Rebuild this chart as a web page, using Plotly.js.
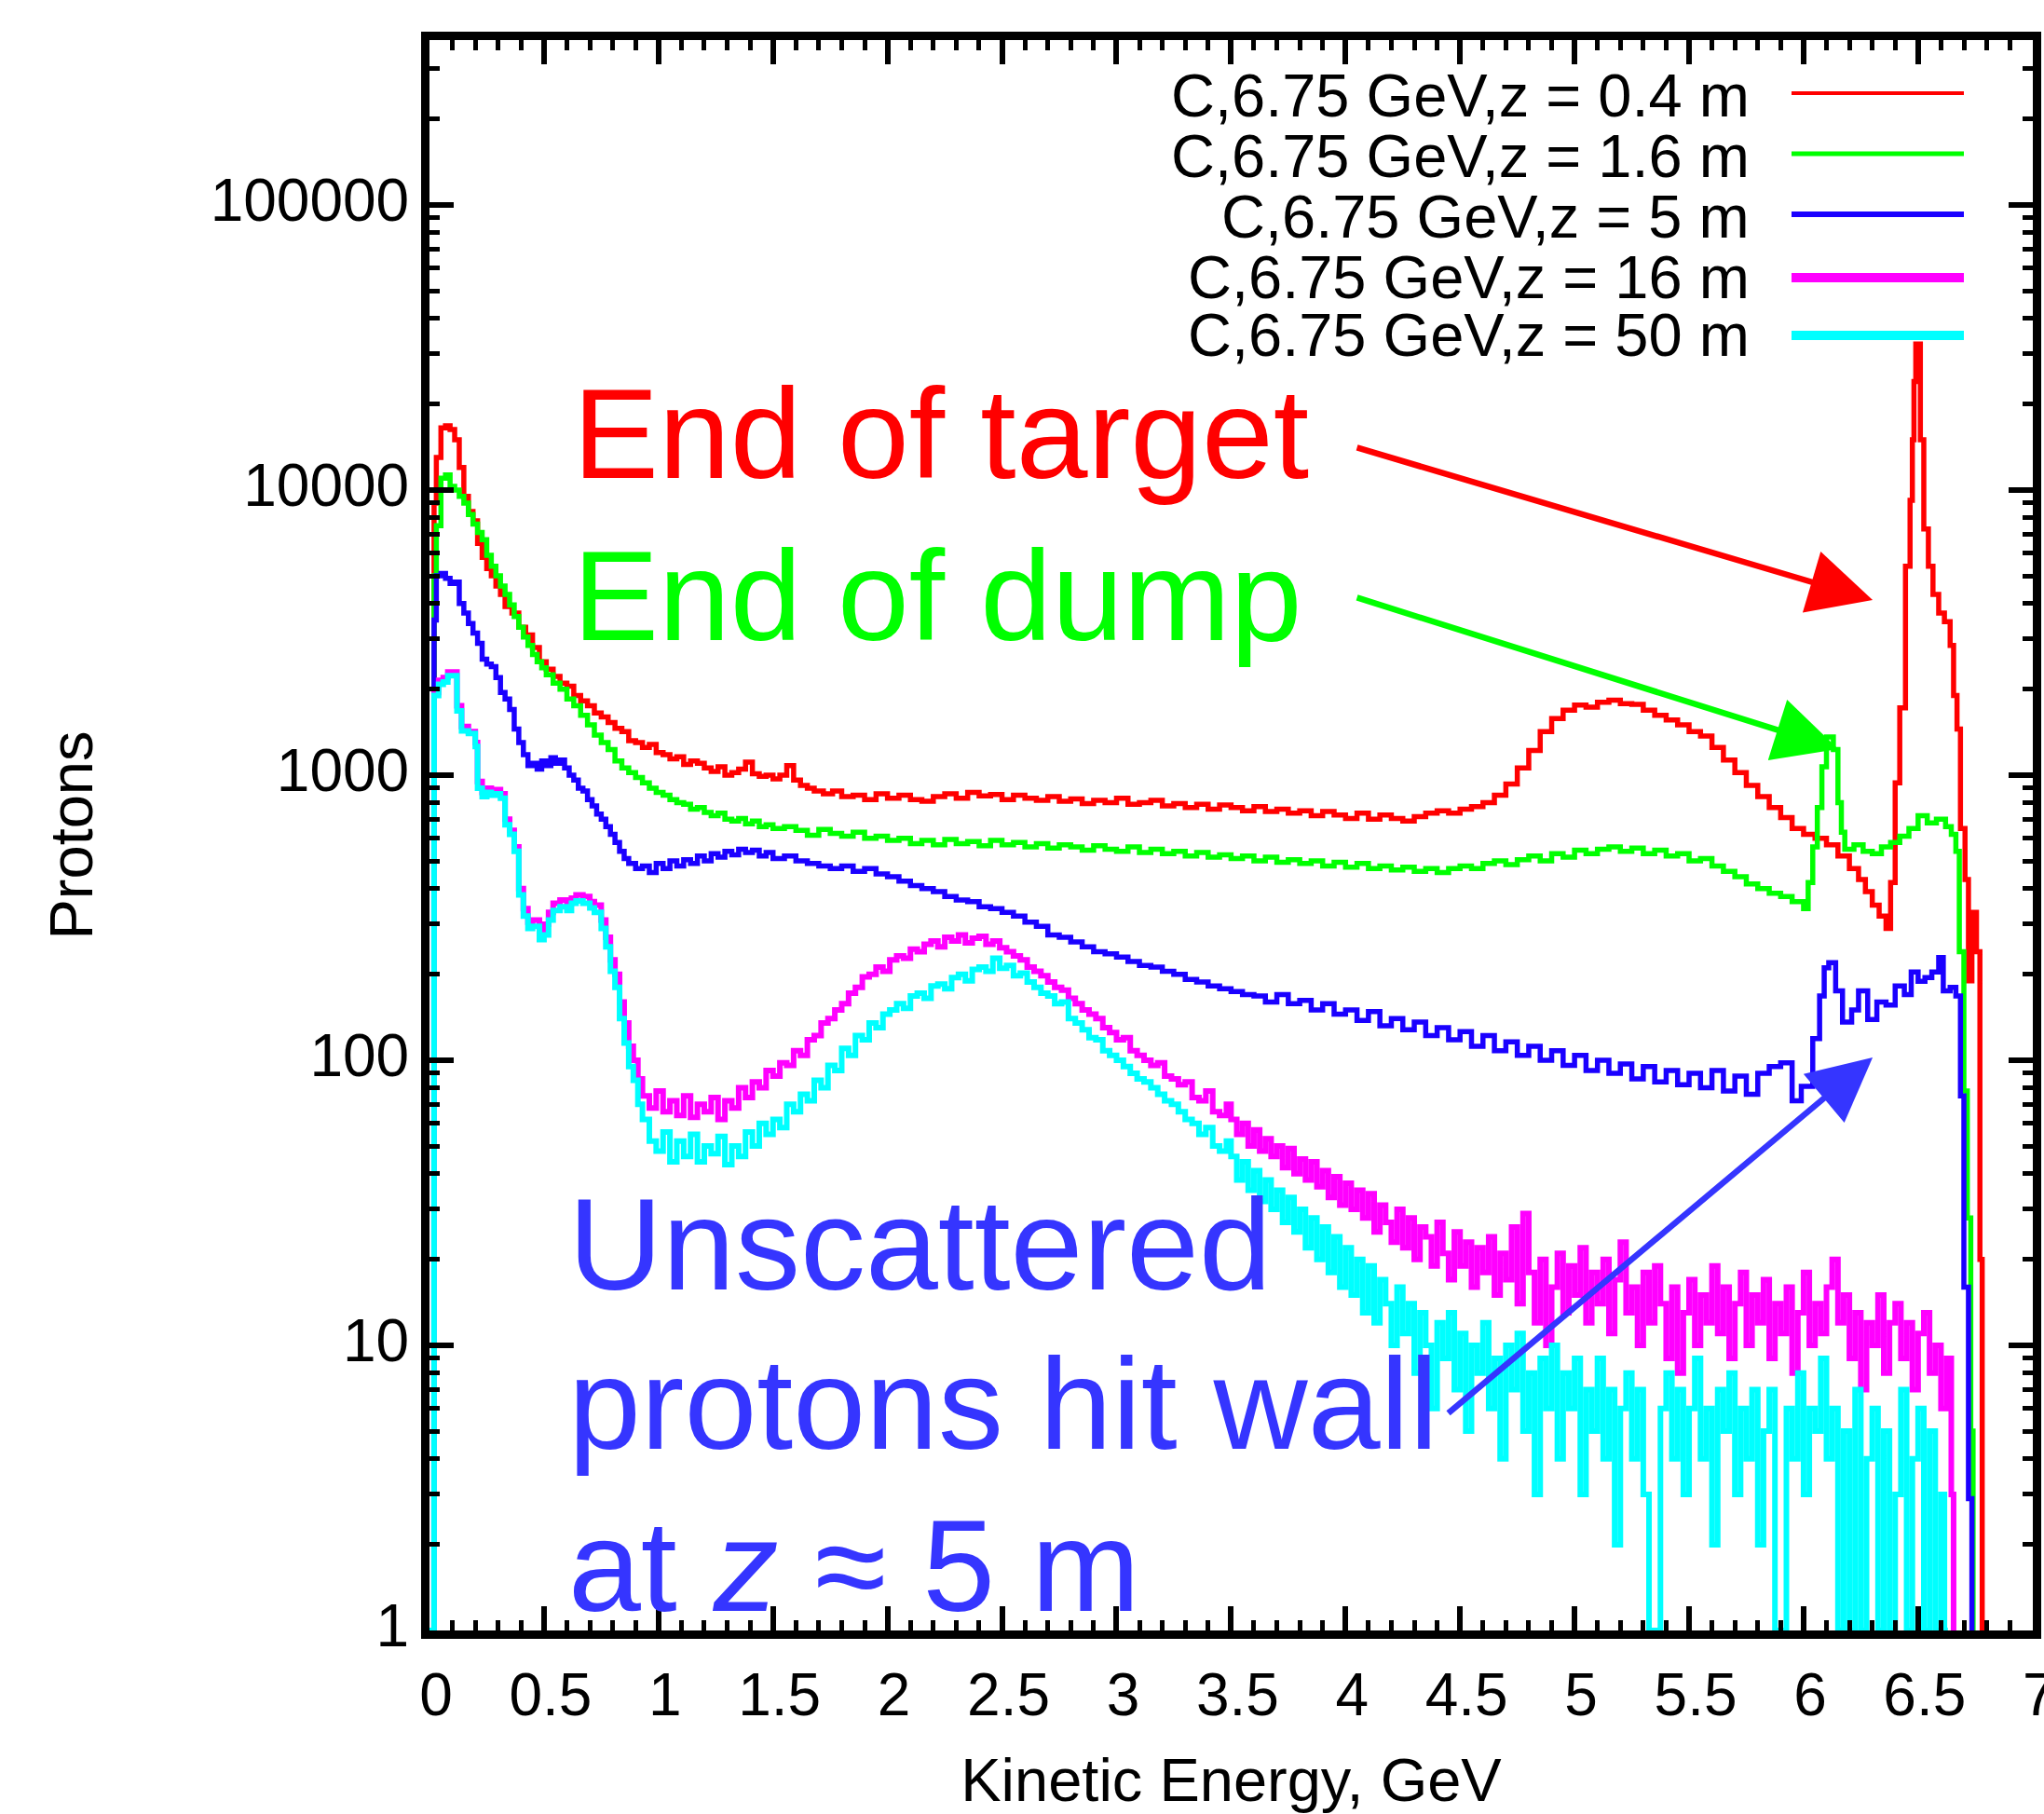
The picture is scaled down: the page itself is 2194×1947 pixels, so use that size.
<!DOCTYPE html>
<html>
<head>
<meta charset="utf-8">
<script src="https://cdn.plot.ly/plotly-3.0.1.min.js"></script>
<style>
html,body{margin:0;padding:0;background:#ffffff;}
#chart{width:2194px;height:1947px;}
</style>
</head>
<body>
<div id="chart"></div>
<script>
// ---------- DATA (kinetic energy bin start in GeV, proton count) ----------
const seriesNames = [
  "C,6.75 GeV,z = 0.4 m",
  "C,6.75 GeV,z = 1.6 m",
  "C,6.75 GeV,z = 5 m",
  "C,6.75 GeV,z = 16 m",
  "C,6.75 GeV,z = 50 m"
];
const seriesColors = ["#ff0000", "#00ff00", "#1a00ff", "#ff00ff", "#00ffff"];

const redSteps = [[0,1],[0.02,9000],[0.03,13000],[0.05,16500],[0.07,16800],[0.09,16300],[0.11,15000],[0.13,12000],[0.15,9500],[0.17,8400],[0.19,7800],[0.21,6500],[0.23,5800],[0.25,5300],[0.27,5000],[0.29,4600],[0.31,4300],[0.33,3900],[0.36,3700],[0.39,3300],[0.42,3100],[0.45,2800],[0.48,2500],[0.51,2350],[0.54,2220],[0.57,2100],[0.60,2050],[0.63,1900],[0.66,1820],[0.69,1750],[0.72,1650],[0.75,1600],[0.78,1530],[0.81,1460],[0.84,1420],[0.87,1320],[0.90,1300],[0.93,1250],[0.96,1280],[0.99,1200],[1.02,1180],[1.05,1140],[1.08,1160],[1.11,1090],[1.14,1120],[1.17,1100],[1.20,1060],[1.23,1030],[1.26,1070],[1.29,1000],[1.32,1020],[1.35,1050],[1.38,1110],[1.41,1010],[1.44,990],[1.47,1000],[1.50,970],[1.53,1000],[1.56,1080],[1.59,960],[1.62,920],[1.65,900],[1.68,880],[1.72,860],[1.76,880],[1.80,840],[1.85,850],[1.90,820],[1.95,860],[2.00,830],[2.05,850],[2.10,820],[2.15,810],[2.20,840],[2.25,860],[2.30,830],[2.35,870],[2.40,845],[2.45,855],[2.50,820],[2.55,850],[2.60,830],[2.65,815],[2.70,840],[2.75,810],[2.80,825],[2.85,795],[2.90,815],[2.95,800],[3.00,830],[3.05,790],[3.10,800],[3.15,815],[3.20,780],[3.25,795],[3.30,770],[3.35,790],[3.40,760],[3.45,785],[3.50,770],[3.55,750],[3.60,775],[3.65,745],[3.70,760],[3.75,735],[3.80,750],[3.85,720],[3.90,745],[3.95,725],[4.00,705],[4.05,735],[4.10,700],[4.15,725],[4.20,705],[4.25,690],[4.30,715],[4.35,735],[4.40,750],[4.45,735],[4.50,760],[4.55,775],[4.60,800],[4.65,850],[4.70,930],[4.75,1060],[4.80,1220],[4.85,1420],[4.90,1580],[4.95,1690],[5.00,1760],[5.05,1730],[5.10,1800],[5.15,1830],[5.20,1780],[5.25,1770],[5.30,1690],[5.35,1620],[5.40,1560],[5.45,1500],[5.50,1420],[5.55,1370],[5.60,1250],[5.65,1130],[5.70,1020],[5.75,920],[5.80,840],[5.85,770],[5.90,710],[5.95,650],[6.00,620],[6.05,600],[6.10,570],[6.15,520],[6.20,470],[6.24,430],[6.27,390],[6.30,350],[6.33,320],[6.36,290],[6.38,420],[6.40,940],[6.42,1720],[6.445,5400],[6.465,9200],[6.475,15000],[6.482,24000],[6.49,32500],[6.51,15000],[6.525,7300],[6.545,5400],[6.565,4300],[6.59,3700],[6.615,3450],[6.64,2850],[6.655,1900],[6.67,1450],[6.685,650],[6.705,430],[6.72,190],[6.735,330],[6.755,240],[6.77,20],[6.78,1]];

const greenSteps = [[0,1],[0.02,5000],[0.03,7500],[0.05,11000],[0.07,11300],[0.09,10300],[0.11,10000],[0.13,9500],[0.15,9000],[0.17,8200],[0.19,7600],[0.21,7100],[0.23,6700],[0.25,5900],[0.27,5400],[0.29,5000],[0.31,4600],[0.33,4300],[0.35,3950],[0.37,3600],[0.39,3300],[0.41,3050],[0.43,2850],[0.45,2650],[0.47,2500],[0.49,2380],[0.51,2250],[0.54,2100],[0.57,2000],[0.60,1850],[0.63,1750],[0.66,1620],[0.69,1500],[0.72,1380],[0.75,1300],[0.78,1230],[0.81,1120],[0.84,1060],[0.87,1020],[0.90,980],[0.93,940],[0.96,900],[0.99,870],[1.02,850],[1.05,820],[1.08,800],[1.11,790],[1.14,760],[1.17,770],[1.20,740],[1.23,720],[1.26,735],[1.29,700],[1.32,690],[1.35,705],[1.38,675],[1.41,690],[1.44,660],[1.47,670],[1.50,650],[1.55,660],[1.60,640],[1.65,615],[1.70,645],[1.75,625],[1.80,610],[1.85,630],[1.90,600],[1.95,610],[2.00,590],[2.05,600],[2.10,575],[2.15,590],[2.20,570],[2.25,595],[2.30,575],[2.35,585],[2.40,565],[2.45,590],[2.50,570],[2.55,580],[2.60,560],[2.65,575],[2.70,555],[2.75,570],[2.80,560],[2.85,545],[2.90,565],[2.95,550],[3.00,540],[3.05,560],[3.10,535],[3.15,550],[3.20,530],[3.25,540],[3.30,520],[3.35,535],[3.40,515],[3.45,525],[3.50,510],[3.55,520],[3.60,500],[3.65,515],[3.70,495],[3.75,505],[3.80,490],[3.85,500],[3.90,480],[3.95,495],[4.00,475],[4.05,490],[4.10,470],[4.15,480],[4.20,465],[4.25,475],[4.30,460],[4.35,470],[4.40,455],[4.45,470],[4.50,480],[4.55,470],[4.60,490],[4.65,500],[4.70,485],[4.75,505],[4.80,520],[4.85,500],[4.90,530],[4.95,515],[5.00,545],[5.05,530],[5.10,550],[5.15,560],[5.20,540],[5.25,555],[5.30,530],[5.35,545],[5.40,520],[5.45,530],[5.50,500],[5.55,510],[5.60,480],[5.65,460],[5.70,440],[5.75,415],[5.80,400],[5.85,385],[5.90,375],[5.95,360],[6.00,340],[6.02,420],[6.04,560],[6.06,770],[6.08,1070],[6.10,1360],[6.13,1230],[6.15,800],[6.165,630],[6.18,550],[6.22,570],[6.26,540],[6.30,530],[6.34,560],[6.38,580],[6.42,610],[6.46,650],[6.50,720],[6.54,680],[6.58,700],[6.62,660],[6.645,620],[6.665,540],[6.68,240],[6.70,78],[6.715,28],[6.73,5],[6.74,1]];

const blueSteps = [[0,1],[0.02,3500],[0.03,5000],[0.05,5100],[0.07,4900],[0.09,4700],[0.11,4750],[0.13,4000],[0.15,3700],[0.17,3400],[0.19,3150],[0.21,2900],[0.23,2550],[0.25,2450],[0.27,2400],[0.29,2200],[0.31,1950],[0.33,1850],[0.35,1700],[0.37,1450],[0.39,1300],[0.41,1180],[0.43,1080],[0.45,1100],[0.47,1050],[0.49,1120],[0.51,1080],[0.53,1150],[0.55,1100],[0.57,1130],[0.59,1060],[0.61,1000],[0.63,960],[0.65,900],[0.67,880],[0.69,820],[0.71,780],[0.73,730],[0.75,700],[0.77,660],[0.79,620],[0.81,580],[0.83,540],[0.85,510],[0.87,490],[0.90,470],[0.93,480],[0.96,455],[0.99,490],[1.02,470],[1.05,500],[1.08,480],[1.11,505],[1.14,490],[1.17,520],[1.20,500],[1.23,530],[1.26,515],[1.29,540],[1.32,525],[1.35,550],[1.38,535],[1.41,545],[1.44,520],[1.47,535],[1.50,510],[1.55,520],[1.60,500],[1.65,490],[1.70,480],[1.75,470],[1.80,480],[1.85,460],[1.90,470],[1.95,450],[2.00,440],[2.05,425],[2.10,410],[2.15,400],[2.20,390],[2.25,375],[2.30,365],[2.35,360],[2.40,345],[2.45,340],[2.50,330],[2.55,320],[2.60,305],[2.65,295],[2.70,275],[2.75,270],[2.80,260],[2.85,250],[2.90,240],[2.95,236],[3.00,230],[3.05,222],[3.10,215],[3.15,212],[3.20,205],[3.25,200],[3.30,192],[3.35,188],[3.40,182],[3.45,178],[3.50,174],[3.55,170],[3.60,168],[3.65,160],[3.70,170],[3.75,158],[3.80,162],[3.85,150],[3.90,158],[3.95,145],[4.00,150],[4.05,138],[4.10,148],[4.15,132],[4.20,140],[4.25,128],[4.30,136],[4.35,122],[4.40,130],[4.45,118],[4.50,126],[4.55,112],[4.60,122],[4.65,108],[4.70,116],[4.75,104],[4.80,112],[4.85,100],[4.90,108],[4.95,96],[5.00,104],[5.05,92],[5.10,100],[5.15,90],[5.20,97],[5.25,86],[5.30,95],[5.35,84],[5.40,92],[5.45,82],[5.50,90],[5.55,80],[5.60,92],[5.65,78],[5.70,88],[5.75,76],[5.80,90],[5.85,95],[5.90,98],[5.95,72],[5.99,81],[6.04,119],[6.07,168],[6.09,211],[6.11,220],[6.14,175],[6.17,136],[6.21,150],[6.24,175],[6.28,139],[6.32,160],[6.36,156],[6.40,182],[6.44,170],[6.47,204],[6.50,189],[6.53,195],[6.56,204],[6.59,229],[6.61,175],[6.64,180],[6.665,168],[6.685,75],[6.70,16],[6.72,2.9],[6.735,1]];

const magentaSteps = [[0,1],[0.02,1950],[0.04,2150],[0.06,2200],[0.08,2300],[0.10,2300],[0.12,1750],[0.14,1480],[0.17,1420],[0.20,1300],[0.21,950],[0.23,870],[0.25,900],[0.27,880],[0.29,890],[0.31,860],[0.33,700],[0.35,640],[0.37,560],[0.39,400],[0.41,340],[0.43,305],[0.45,310],[0.48,285],[0.50,300],[0.52,330],[0.54,355],[0.57,365],[0.60,355],[0.62,370],[0.64,380],[0.67,375],[0.70,360],[0.72,350],[0.75,310],[0.77,270],[0.79,225],[0.81,200],[0.83,160],[0.85,135],[0.87,112],[0.89,100],[0.91,86],[0.93,75],[0.96,68],[0.99,78],[1.02,66],[1.05,72],[1.08,64],[1.11,75],[1.14,63],[1.17,70],[1.20,66],[1.23,74],[1.26,62],[1.29,72],[1.32,68],[1.35,80],[1.38,74],[1.41,84],[1.44,80],[1.47,92],[1.50,88],[1.53,98],[1.56,96],[1.59,108],[1.62,104],[1.65,118],[1.68,122],[1.71,135],[1.74,140],[1.77,150],[1.80,158],[1.83,172],[1.86,180],[1.89,196],[1.92,200],[1.95,212],[1.98,205],[2.01,225],[2.04,232],[2.07,228],[2.10,245],[2.13,240],[2.16,255],[2.19,262],[2.22,250],[2.25,270],[2.28,262],[2.31,275],[2.34,258],[2.37,268],[2.40,272],[2.43,255],[2.46,262],[2.49,248],[2.52,240],[2.55,232],[2.58,225],[2.61,212],[2.64,205],[2.67,198],[2.70,188],[2.73,180],[2.76,176],[2.79,165],[2.82,158],[2.85,150],[2.88,145],[2.91,140],[2.94,130],[2.97,125],[3.00,118],[3.03,120],[3.06,108],[3.09,104],[3.12,100],[3.15,96],[3.18,98],[3.21,88],[3.24,86],[3.27,82],[3.30,84],[3.33,74],[3.36,72],[3.39,78],[3.42,66],[3.45,64],[3.48,70],
[3.500,62],[3.525,55],[3.550,60],[3.575,50],[3.600,57],[3.625,48],[3.650,53],[3.675,46],[3.700,50],[3.725,42],[3.750,49],[3.775,40],[3.800,45],[3.825,38],[3.850,44],[3.875,36],[3.900,41],[3.925,33],[3.950,39],[3.975,31],[4.000,37],[4.025,30],[4.050,35],[4.075,28],[4.100,34],[4.125,25],[4.150,31],[4.175,27],[4.200,23],[4.225,30],[4.250,22],[4.275,28],[4.300,20],[4.325,26],[4.350,24],[4.375,19],[4.400,27],[4.425,21],[4.450,17],[4.475,25],[4.500,19],[4.525,23],[4.550,16],[4.575,22],[4.600,18],[4.625,24],[4.650,15],[4.675,21],[4.700,17],[4.725,26],[4.750,14],[4.775,29],[4.800,18],[4.825,12],[4.850,20],[4.875,10],[4.900,16],[4.925,21],[4.950,13],[4.975,19],[5.000,15],[5.025,22],[5.050,12],[5.075,18],[5.100,14],[5.125,20],[5.150,11],[5.175,17],[5.200,23],[5.225,13],[5.250,16],[5.275,10],[5.300,18],[5.325,12],[5.350,19],[5.375,14],[5.400,9],[5.425,16],[5.450,8],[5.475,13],[5.500,17],[5.525,10],[5.550,15],[5.575,12],[5.600,19],[5.625,11],[5.650,16],[5.675,9],[5.700,14],[5.725,18],[5.750,10],[5.775,15],[5.800,12],[5.825,17],[5.850,9],[5.875,14],[5.900,11],[5.925,16],[5.950,8],[5.975,13],[6.000,18],[6.025,10],[6.050,14],[6.075,11],[6.100,16],[6.125,20],[6.150,12],[6.175,15],[6.200,9],[6.225,13],[6.250,7],[6.275,12],[6.300,10],[6.325,15],[6.350,8],[6.375,12],[6.400,14],[6.425,9],[6.450,12],[6.475,7],[6.500,11],[6.525,13],[6.550,8],[6.575,10],[6.600,6],[6.625,9],[6.645,3],[6.655,1]];

const cyanSteps = [[0,1],[0.02,1900],[0.04,2080],[0.06,2120],[0.08,2230],[0.10,2230],[0.12,1680],[0.14,1430],[0.17,1400],[0.20,1260],[0.21,900],[0.23,840],[0.25,870],[0.27,850],[0.29,860],[0.31,830],[0.33,670],[0.35,620],[0.37,540],[0.39,380],[0.41,320],[0.43,290],[0.45,295],[0.48,265],[0.50,275],[0.52,310],[0.54,335],[0.57,345],[0.60,335],[0.62,355],[0.64,362],[0.67,355],[0.70,342],[0.72,330],[0.75,290],[0.77,250],[0.79,205],[0.81,180],[0.83,140],[0.85,115],[0.87,95],[0.89,85],[0.91,70],[0.93,62],[0.96,52],[0.99,48],[1.02,56],[1.05,44],[1.08,52],[1.11,46],[1.14,55],[1.17,44],[1.20,50],[1.23,47],[1.26,54],[1.29,43],[1.32,50],[1.35,46],[1.38,56],[1.41,50],[1.44,60],[1.47,55],[1.50,62],[1.53,58],[1.56,70],[1.59,66],[1.62,76],[1.65,72],[1.68,85],[1.71,80],[1.74,96],[1.77,92],[1.80,110],[1.83,104],[1.86,122],[1.89,118],[1.92,135],[1.95,130],[1.98,145],[2.01,150],[2.04,158],[2.07,152],[2.10,168],[2.13,172],[2.16,165],[2.19,182],[2.22,185],[2.25,178],[2.28,195],[2.31,200],[2.34,190],[2.37,208],[2.40,212],[2.43,205],[2.46,228],[2.49,210],[2.52,215],[2.55,198],[2.58,202],[2.61,188],[2.64,180],[2.67,172],[2.70,168],[2.73,158],[2.76,160],[2.79,140],[2.82,135],[2.85,128],[2.88,120],[2.91,118],[2.94,108],[2.97,104],[3.00,100],[3.03,95],[3.06,90],[3.09,86],[3.12,84],[3.15,80],[3.18,76],[3.21,72],[3.24,70],[3.27,66],[3.30,62],[3.33,60],[3.36,55],[3.39,58],[3.42,50],[3.45,48],[3.48,52],
[3.500,46],[3.525,38],[3.550,44],[3.575,35],[3.600,41],[3.625,32],[3.650,38],[3.675,30],[3.700,35],[3.725,27],[3.750,33],[3.775,25],[3.800,30],[3.825,22],[3.850,28],[3.875,20],[3.900,26],[3.925,18],[3.950,24],[3.975,16],[4.000,22],[4.025,15],[4.050,20],[4.075,13],[4.100,19],[4.125,12],[4.150,17],[4.175,14],[4.200,10],[4.225,16],[4.250,11],[4.275,14],[4.300,8],[4.325,13],[4.350,10],[4.375,6],[4.400,12],[4.425,9],[4.450,13],[4.475,7],[4.500,11],[4.525,5],[4.550,10],[4.575,8],[4.600,12],[4.625,6],[4.650,9],[4.675,4],[4.700,10],[4.725,7],[4.750,11],[4.775,5],[4.800,8],[4.825,3],[4.850,9],[4.875,6],[4.900,10],[4.925,4],[4.950,8],[4.975,6],[5.000,9],[5.025,3],[5.050,7],[5.075,5],[5.100,9],[5.125,4],[5.150,7],[5.175,2],[5.200,6],[5.225,8],[5.250,4],[5.275,7],[5.300,3],[5.325,1],[5.350,1],[5.375,6],[5.400,8],[5.425,4],[5.450,7],[5.475,3],[5.500,6],[5.525,9],[5.550,4],[5.575,6],[5.600,2],[5.625,7],[5.650,5],[5.675,8],[5.700,3],[5.725,6],[5.750,4],[5.775,7],[5.800,2],[5.825,5],[5.850,7],[5.875,1],[5.900,1],[5.925,6],[5.950,4],[5.975,8],[6.000,3],[6.025,6],[6.050,5],[6.075,9],[6.100,4],[6.125,6],[6.150,1],[6.175,5],[6.200,1],[6.225,7],[6.250,1],[6.275,4],[6.300,6],[6.325,1],[6.350,5],[6.375,1],[6.400,3],[6.425,7],[6.450,1],[6.475,4],[6.500,6],[6.525,1],[6.550,5],[6.575,1],[6.600,3],[6.615,1],[6.630,1]];

const xTitle = "Kinetic Energy, GeV";
const yTitle = "Protons";
const noteTexts = ["End of target", "End of dump", "Unscattered", "protons hit wall", "at <i>z</i> \u2248 5 m"];

// ---------- BUILD ----------
const FONT = "Liberation Sans, Arial, Helvetica, sans-serif";
const allSteps = [redSteps, greenSteps, blueSteps, magentaSteps, cyanSteps];
const lineWidths = [5.5, 5.5, 5.5, 6, 6];

const traces = allSteps.map((s, i) => ({
  type: "scatter",
  mode: "lines",
  name: seriesNames[i],
  x: s.map(p => p[0]),
  y: s.map(p => p[1]),
  line: {shape: "hv", color: seriesColors[i], width: lineWidths[i]},
  showlegend: false,
  hoverinfo: "skip"
}));

// custom legend (text left of sample line, like the original)
const legendRowsY = [0.9651, 0.9270, 0.8890, 0.8509, 0.8146];
const legendLineY = [0.9666, 0.9285, 0.8904, 0.8506, 0.8143];
const legendLineW = [4, 5, 6, 10, 10];
const shapes = [];
const annotations = [];
seriesNames.forEach((nm, i) => {
  annotations.push({
    xref: "paper", yref: "paper", x: 0.8248, y: legendRowsY[i],
    xanchor: "right", yanchor: "middle", showarrow: false,
    text: nm, font: {family: FONT, size: 65, color: "#000"}
  });
  shapes.push({
    type: "line", xref: "paper", yref: "paper",
    x0: 0.8495, x1: 0.9570, y0: legendLineY[i], y1: legendLineY[i],
    line: {color: seriesColors[i], width: legendLineW[i]}
  });
});

// big coloured notes
const noteStyle = [
  {x: 0.0884, y: 0.7528, color: "#ff0000", size: 138},
  {x: 0.0884, y: 0.6508, color: "#00ff00", size: 138},
  {x: 0.0855, y: 0.2431, color: "#3535ff", size: 140},
  {x: 0.0855, y: 0.1424, color: "#3535ff", size: 140},
  {x: 0.0855, y: 0.0410, color: "#3535ff", size: 140}
];
noteTexts.forEach((t, i) => {
  annotations.push({
    xref: "paper", yref: "paper", x: noteStyle[i].x, y: noteStyle[i].y,
    xanchor: "left", yanchor: "middle", showarrow: false, text: t,
    font: {family: FONT, size: noteStyle[i].size, color: noteStyle[i].color}
  });
});

// arrows
const arrows = [
  {x: 0.9001, y: 0.6479, ax: -555, ay: -164, color: "#ff0000"},
  {x: 0.8786, y: 0.5542, ax: -518, ay: -163, color: "#00ff00"},
  {x: 0.9001, y: 0.3603, ax: -457, ay: 383, color: "#3535ff"}
];
arrows.forEach(a => {
  annotations.push({
    xref: "paper", yref: "paper", x: a.x, y: a.y, ax: a.ax, ay: a.ay,
    text: "", showarrow: true, arrowhead: 2, arrowsize: 2.1, arrowwidth: 6.5,
    arrowcolor: a.color, standoff: 0
  });
});

const axisCommon = {
  showline: true, linewidth: 9, linecolor: "#000", mirror: "ticks",
  ticks: "inside", ticklen: 26, tickwidth: 6, tickcolor: "#000",
  showgrid: false, zeroline: false, automargin: false,
  ticklabeloverflow: "allow",
  tickfont: {family: FONT, size: 64, color: "#000"}
};

const layout = {
  width: 2194, height: 1947,
  margin: {l: 461, r: 12, t: 43, b: 197, pad: 0},
  paper_bgcolor: "#ffffff", plot_bgcolor: "#ffffff",
  showlegend: false,
  xaxis: Object.assign({}, axisCommon, {
    range: [0, 7.001], tick0: 0, dtick: 0.5,
    ticklabelshift: 7, ticklabelstandoff: 5,
    minor: {ticks: "inside", dtick: 0.1, ticklen: 11, tickwidth: 5, tickcolor: "#000", showgrid: false},
    title: {text: xTitle, font: {family: FONT, size: 65, color: "#000"}, standoff: 65}
  }),
  yaxis: Object.assign({}, axisCommon, {
    type: "log", range: [0, 5.578], dtick: 1, tickformat: "d",
    ticklabelshift: -5,
    minor: {ticks: "inside", dtick: "D1", ticklen: 11, tickwidth: 5, tickcolor: "#000", showgrid: false},
    title: {text: yTitle, font: {family: FONT, size: 65, color: "#000"}, standoff: 108}
  }),
  shapes: shapes,
  annotations: annotations
};

Plotly.newPlot("chart", traces, layout, {staticPlot: true, displayModeBar: false});
</script>
</body>
</html>
